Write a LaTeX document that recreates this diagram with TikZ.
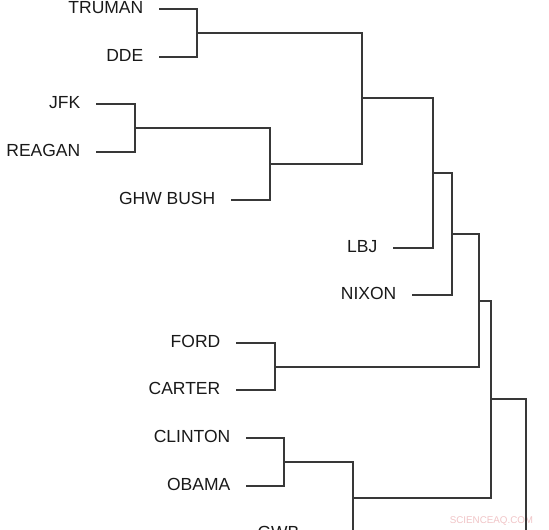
\documentclass[tikz,border=0pt]{standalone}
\usepackage{fontspec}
\setmainfont{Liberation Sans}
\begin{document}
\begin{tikzpicture}[x=1pt,y=-1pt,
  lbl/.style={anchor=east,inner xsep=15.5pt,inner ysep=0pt,text height=12.5pt,text depth=3pt,
    font=\fontsize{17.5}{20}\selectfont,text=black!90},
  br/.style={draw=black!78,line width=1.1pt},
  wm/.style={font=\fontsize{9.8}{11}\selectfont,text={rgb,255:red,240;green,196;blue,198},inner sep=0pt}]
\useasboundingbox (0,0) rectangle (549,530);
\clip (0,0) rectangle (549,530);
% leaves
\node[lbl] (TRUMAN) at (159,9) {TRUMAN};
\node[lbl] (DDE) at (159,57) {DDE};
\node[lbl] (JFK) at (96,104) {JFK};
\node[lbl] (REAGAN) at (96,152) {REAGAN};
\node[lbl] (GHWB) at (231,200) {GHW BUSH};
\node[lbl] (LBJ) at (393,248) {LBJ};
\node[lbl] (NIXON) at (412,295) {NIXON};
\node[lbl] (FORD) at (236,343) {FORD};
\node[lbl] (CARTER) at (236,390) {CARTER};
\node[lbl] (CLINTON) at (246,438) {CLINTON};
\node[lbl] (OBAMA) at (246,486) {OBAMA};
\node[lbl] (GWB) at (315,533.5) {GWB};
% merge points
\coordinate (m1) at (197,33);
\coordinate (m2) at (135,128);
\coordinate (m3) at (270,164);
\coordinate (m4) at (362,98);
\coordinate (m5) at (433,173);
\coordinate (m6) at (452,234);
\coordinate (m7) at (275,367);
\coordinate (m8) at (479,301);
\coordinate (m9) at (284,462);
\coordinate (m10) at (353,498);
\coordinate (m11) at (491,399);
\coordinate (m12) at (526,560);
% watermark
\node[wm] (wmark) at (491.5,521) {SCIENCEAQ.COM};
% brackets
\draw[br] (TRUMAN.east) -| (m1) |- (DDE.east);
\draw[br] (JFK.east) -| (m2) |- (REAGAN.east);
\draw[br] (m2) -| (m3) |- (GHWB.east);
\draw[br] (m1) -| (m4) |- (m3);
\draw[br] (m4) -| (m5) |- (LBJ.east);
\draw[br] (m5) -| (m6) |- (NIXON.east);
\draw[br] (FORD.east) -| (m7) |- (CARTER.east);
\draw[br] (m6) -| (m8) |- (m7);
\draw[br] (CLINTON.east) -| (m9) |- (OBAMA.east);
\draw[br] (m9) -| (m10) |- (GWB.east);
\draw[br] (m8) -| (m11) |- (m10);
\draw[br] (m11) -| (m12);
\end{tikzpicture}
\end{document}
